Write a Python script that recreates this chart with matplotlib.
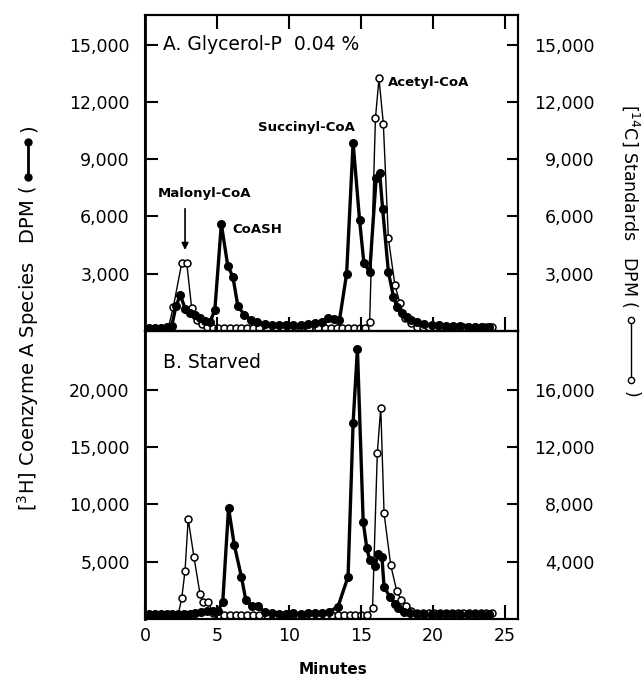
import matplotlib
matplotlib.use('Agg')
import matplotlib.pyplot as plt
from matplotlib.lines import Line2D

# Panel A: glycerol-P 0.04 %
a_h3_min = [0.3, 0.7, 1.1, 1.5, 1.85, 2.15, 2.45, 2.8, 3.1, 3.45, 3.8, 4.15, 4.5, 4.85, 5.3,
            5.75, 6.1, 6.45, 6.9, 7.35, 7.8, 8.3, 8.8, 9.3, 9.8, 10.3, 10.8, 11.3, 11.8, 12.3,
            12.7, 13.1, 13.5, 14.0, 14.45, 14.9, 15.2, 15.6, 16.05, 16.3, 16.5, 16.9, 17.25, 17.5,
            17.85, 18.2, 18.5, 18.9, 19.4, 19.9, 20.4, 20.9, 21.4, 21.9, 22.4, 22.9, 23.4, 23.9]
a_h3_dpm = [150, 150, 150, 200, 250, 1300, 1880, 1150, 950, 850, 700, 500, 450, 1100, 5600,
            3400, 2850, 1300, 850, 600, 450, 350, 300, 300, 300, 300, 300, 350, 400, 450,
            700, 650, 550, 3000, 9850, 5800, 3550, 3100, 8000, 8250, 6400, 3100, 1800, 1270,
            930, 750, 575, 450, 350, 300, 300, 250, 250, 250, 200, 200, 200, 200]
a_c14_min = [1.6, 1.97, 2.55, 2.9, 3.24, 3.6, 3.95, 4.3, 4.7, 5.1, 5.5, 5.9, 6.3, 6.7, 7.1,
             7.5, 7.9, 8.5, 9.0, 9.6, 10.2, 10.8, 11.4, 12.0, 12.5, 12.9, 13.3, 13.7, 14.1,
             14.5, 14.9, 15.25, 15.6, 16.0, 16.25, 16.55, 16.9, 17.35, 17.7, 18.05, 18.45,
             18.9, 19.3, 19.7, 20.1, 20.5, 20.9, 21.3, 21.7, 22.1, 22.5, 22.9, 23.3, 23.7, 24.1]
a_c14_dpm = [100, 1270, 3560, 3560, 1200, 600, 350, 200, 150, 150, 150, 150, 150, 150, 150,
             150, 150, 150, 150, 150, 150, 150, 150, 150, 150, 150, 150, 150, 150,
             150, 150, 150, 490, 11140, 13230, 10840, 4850, 2410, 1465, 680, 400,
             225, 225, 225, 225, 225, 225, 225, 225, 225, 225, 225, 225, 225, 225]

# Panel B: starved
b_h3_min = [0.3, 0.7, 1.1, 1.5, 1.9, 2.3, 2.7, 3.1, 3.5, 3.9, 4.3, 4.7, 5.05, 5.4, 5.8, 6.2,
            6.7, 7.0, 7.45, 7.85, 8.3, 8.8, 9.3, 9.8, 10.3, 10.8, 11.3, 11.8, 12.3, 12.8, 13.4,
            14.1, 14.45, 14.75, 15.15, 15.4, 15.6, 15.95, 16.2, 16.45, 16.6, 17.0, 17.35, 17.6,
            17.95, 18.4, 18.9, 19.4, 19.9, 20.4, 20.9, 21.4, 21.9, 22.4, 22.9, 23.4, 23.9]
b_h3_dpm = [400, 450, 450, 450, 450, 450, 450, 450, 500, 600, 700, 700, 700, 1500, 9700, 6450,
            3650, 1650, 1130, 1130, 600, 500, 450, 450, 500, 450, 500, 500, 550, 650, 1070,
            3700, 17100, 23600, 8500, 6200, 5150, 4600, 5700, 5450, 2800, 1950, 1350, 930,
            640, 500, 400, 400, 400, 400, 400, 400, 400, 400, 400, 400, 400]
b_c14_min = [0.3, 0.8, 1.3, 1.8, 2.3, 2.55, 2.78, 3.0, 3.4, 3.82, 4.0, 4.4, 4.7, 5.1, 5.5,
             5.9, 6.3, 6.7, 7.1, 7.5, 7.9, 8.5, 9.1, 9.7, 10.3, 10.9, 11.5, 12.1, 12.6, 13.0,
             13.4, 13.8, 14.2, 14.6, 15.0, 15.4, 15.8, 16.13, 16.37, 16.6, 17.06, 17.48, 17.8,
             18.1, 18.5, 18.9, 19.3, 19.7, 20.1, 20.5, 20.9, 21.3, 21.7, 22.1, 22.5, 22.9,
             23.3, 23.7, 24.1]
b_c14_dpm = [150, 150, 150, 150, 300, 1440, 3370, 6980, 4310, 1750, 1200, 1200, 450, 250, 250,
             250, 250, 250, 250, 250, 250, 250, 250, 250, 250, 250, 250, 250, 250, 250,
             250, 250, 250, 250, 250, 250, 745, 11570, 14750, 7380, 3770, 1950, 1330,
             880, 550, 450, 450, 450, 450, 450, 450, 450, 450, 450, 450, 450,
             450, 450, 450]

a_left_ticks = [3000, 6000, 9000, 12000, 15000]
a_right_ticks = [3000, 6000, 9000, 12000, 15000]
b_left_ticks = [5000, 10000, 15000, 20000]
b_right_ticks = [4000, 8000, 12000, 16000]
x_ticks = [0, 5, 10, 15, 20, 25]

W, H = 644, 685
fig = plt.figure(figsize=(W / 100, H / 100), dpi=100)
left, right = 145, 518
ax_a = fig.add_axes([left / W, 1 - 331 / H, (right - left) / W, 316 / H])
ax_b = fig.add_axes([left / W, 1 - 619 / H, (right - left) / W, 288 / H])
ax_a2 = ax_a.twinx()
ax_b2 = ax_b.twinx()

filled = dict(color='black', lw=2.4, marker='o', ms=5.5)
hollow = dict(color='black', lw=1.0, marker='o', ms=5, mfc='white', mec='black', mew=1.1)

ax_a.plot(a_h3_min, a_h3_dpm, **filled)
ax_a2.plot(a_c14_min, a_c14_dpm, **hollow)
ax_b.plot(b_h3_min, b_h3_dpm, **filled)
ax_b2.plot(b_c14_min, b_c14_dpm, **hollow)

# filled series over the open standards
for ax, ax2 in ((ax_a, ax_a2), (ax_b, ax_b2)):
    ax.set_zorder(ax2.get_zorder() + 1)
    ax.patch.set_visible(False)
    for a in (ax, ax2):
        for sp in a.spines.values():
            sp.set_linewidth(1.5)
    ax.spines['left'].set_linewidth(2)
    ax.set_xlim(0, 25.9)

ax_a.set_ylim(0, 16550)
ax_a2.set_ylim(0, 16550)
ax_b.set_ylim(0, 25130)
ax_b2.set_ylim(0, 20100)

fs = 12.5
ax_a.set_yticks(a_left_ticks, [f"{v:,}" for v in a_left_ticks])
ax_a2.set_yticks(a_right_ticks, [f"{v:,}" for v in a_right_ticks])
ax_b.set_yticks(b_left_ticks, [f"{v:,}" for v in b_left_ticks])
ax_b2.set_yticks(b_right_ticks, [f"{v:,}" for v in b_right_ticks])

for ax in (ax_a, ax_b):
    ax.tick_params(axis='y', direction='in', length=9, width=1.5, pad=11, labelsize=fs)
for ax in (ax_a2, ax_b2):
    ax.tick_params(axis='y', direction='in', length=8, width=1.5, pad=55, labelsize=fs)
    plt.setp(ax.get_yticklabels(), ha='right')

ax_a.set_xticks(x_ticks[1:])
ax_a.tick_params(axis='x', direction='in', top=True, bottom=True, labelbottom=False,
                 length=10, width=1.5)
ax_b.set_xticks(x_ticks, [str(v) for v in x_ticks])
ax_b.tick_params(axis='x', direction='in', length=10, width=1.5, pad=6, labelsize=fs)

# panel titles and peak labels
ax_a.text(1.25, 14980, "A. Glycerol-P  0.04 %", fontsize=13.5, va='center', ha='left')
ax_b.text(1.25, 22340, "B. Starved", fontsize=13.5, va='center', ha='left')
lab = dict(fontsize=9.5, fontweight='bold', va='center')
ax_a.text(4.13, 7220, "Malonyl-CoA", ha='center', **lab)
ax_a.annotate('', xy=(2.78, 4100), xytext=(2.78, 6550),
              arrowprops=dict(arrowstyle='-|>', color='black', lw=1.2, mutation_scale=10))
ax_a.text(6.1, 5340, "CoASH", ha='left', **lab)
ax_a.text(11.2, 10680, "Succinyl-CoA", ha='center', **lab)
ax_a.text(16.9, 13040, "Acetyl-CoA", ha='left', **lab)

# axis titles
fig.text(333 / W, 1 - 670 / H, "Minutes", fontsize=11, fontweight='bold', ha='center', va='center')

xl = 28 / W
fig.text(xl, 1 - 186 / H, "[$^3$H] Coenzyme A Species   DPM (", rotation=90,
         ha='center', va='top', fontsize=14)
fig.add_artist(Line2D([xl, xl], [1 - 177 / H, 1 - 142 / H], transform=fig.transFigure,
                      color='black', lw=2, marker='o', ms=5))
fig.text(xl, 1 - 128 / H, ")", rotation=90, ha='center', va='center', fontsize=14)

xr = 631 / W
fig.text(xr, 1 - 308 / H, "[$^{14}$C] Standards   DPM (", rotation=270,
         ha='center', va='bottom', fontsize=12.5)
fig.add_artist(Line2D([xr, xr], [1 - 320 / H, 1 - 380 / H], transform=fig.transFigure,
                      color='black', lw=1, marker='o', ms=4.5, mfc='white', mec='black'))
fig.text(xr, 1 - 394 / H, ")", rotation=270, ha='center', va='center', fontsize=12.5)

plt.savefig('out.png', dpi=100)
